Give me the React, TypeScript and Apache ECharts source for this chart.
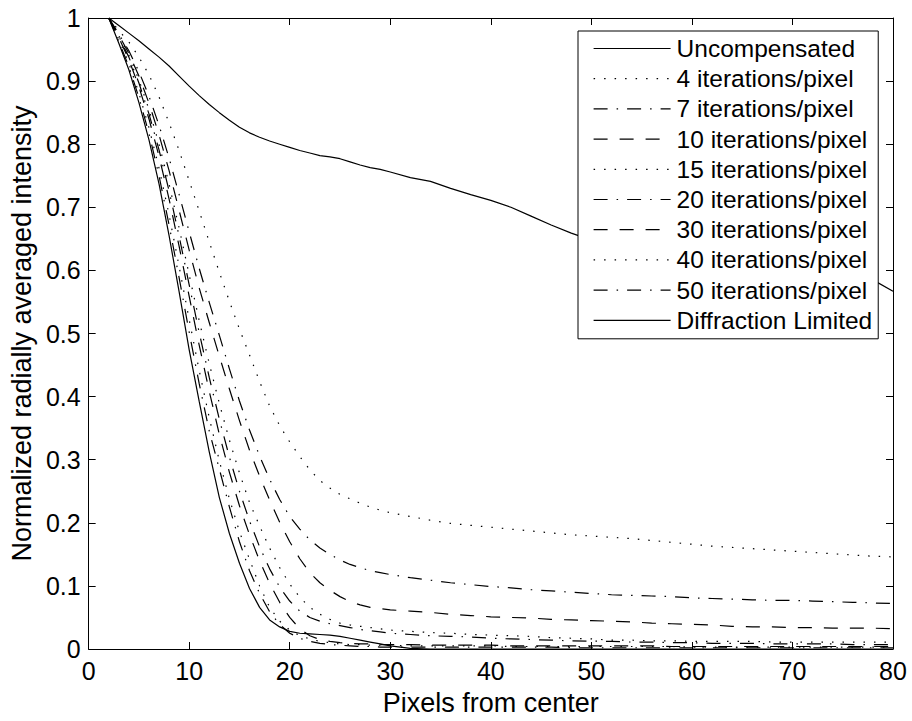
import React, { useEffect, useRef } from 'react';
import * as echarts from 'echarts';

// Shared x grid (pixels from center)
const xs = [2, 3, 4, 5, 6, 7, 8, 9, 10, 11, 12, 13, 14, 15, 16, 17, 18, 19, 20, 21, 22, 23, 24, 25, 26, 27, 28, 29, 30,
  32, 34, 36, 38, 40, 42, 44, 46, 48, 50, 52, 54, 56, 58, 60, 62, 64, 66, 68, 70, 72, 74, 76, 78, 80];

const uncompensated = [1.000, 0.988, 0.976, 0.964, 0.951, 0.938, 0.924, 0.908, 0.892, 0.877, 0.863, 0.850, 0.838, 0.827, 0.818, 0.811, 0.805, 0.800, 0.795, 0.790, 0.786, 0.782, 0.780, 0.777, 0.772, 0.767, 0.763, 0.760, 0.756,
  0.747, 0.741, 0.730, 0.720, 0.711, 0.700, 0.686, 0.672, 0.659, 0.648, 0.640, 0.634, 0.629, 0.625, 0.621, 0.617, 0.614, 0.611, 0.608, 0.605, 0.602, 0.598, 0.594, 0.585, 0.567];

const iter4 = [1.000, 0.980, 0.962, 0.938, 0.910, 0.875, 0.834, 0.790, 0.742, 0.694, 0.645, 0.597, 0.551, 0.507, 0.466, 0.424, 0.385, 0.354, 0.328, 0.305, 0.284, 0.267, 0.255, 0.245, 0.238, 0.231, 0.225, 0.220, 0.216,
  0.210, 0.204, 0.199, 0.196, 0.193, 0.190, 0.187, 0.184, 0.181, 0.179, 0.177, 0.175, 0.172, 0.169, 0.166, 0.163, 0.161, 0.159, 0.157, 0.155, 0.153, 0.151, 0.149, 0.147, 0.146];

const iter7 = [1.000, 0.975, 0.948, 0.915, 0.876, 0.830, 0.778, 0.720, 0.661, 0.603, 0.549, 0.497, 0.444, 0.393, 0.347, 0.306, 0.269, 0.237, 0.210, 0.190, 0.173, 0.160, 0.150, 0.141, 0.134, 0.129, 0.124, 0.121, 0.118,
  0.113, 0.109, 0.105, 0.102, 0.099, 0.097, 0.094, 0.092, 0.090, 0.088, 0.086, 0.085, 0.084, 0.083, 0.081, 0.080, 0.079, 0.078, 0.077, 0.077, 0.076, 0.075, 0.074, 0.073, 0.072];

const iter10 = [1.000, 0.973, 0.944, 0.908, 0.865, 0.815, 0.758, 0.695, 0.632, 0.572, 0.517, 0.464, 0.412, 0.362, 0.315, 0.274, 0.236, 0.201, 0.170, 0.143, 0.121, 0.105, 0.093, 0.083, 0.075, 0.070, 0.066, 0.064, 0.062,
  0.060, 0.058, 0.055, 0.053, 0.051, 0.050, 0.049, 0.047, 0.046, 0.045, 0.044, 0.043, 0.041, 0.040, 0.039, 0.038, 0.036, 0.035, 0.035, 0.034, 0.034, 0.033, 0.033, 0.033, 0.032];

const iter15 = [1.000, 0.972, 0.941, 0.902, 0.855, 0.800, 0.737, 0.667, 0.593, 0.520, 0.452, 0.389, 0.331, 0.279, 0.232, 0.195, 0.160, 0.129, 0.103, 0.082, 0.066, 0.055, 0.047, 0.041, 0.038, 0.036, 0.034, 0.032, 0.030,
  0.028, 0.026, 0.025, 0.023, 0.022, 0.021, 0.020, 0.018, 0.017, 0.016, 0.014, 0.014, 0.013, 0.013, 0.012, 0.012, 0.012, 0.012, 0.011, 0.011, 0.011, 0.011, 0.011, 0.011, 0.011];

const iter20 = [1.000, 0.971, 0.938, 0.897, 0.848, 0.791, 0.726, 0.654, 0.577, 0.501, 0.430, 0.364, 0.304, 0.250, 0.203, 0.162, 0.127, 0.098, 0.076, 0.060, 0.050, 0.044, 0.040, 0.037, 0.034, 0.031, 0.029, 0.027, 0.025,
  0.023, 0.021, 0.020, 0.019, 0.017, 0.016, 0.015, 0.014, 0.013, 0.0125, 0.012, 0.011, 0.011, 0.010, 0.010, 0.009, 0.009, 0.009, 0.008, 0.008, 0.008, 0.008, 0.007, 0.007, 0.007];

const iter30 = [1.000, 0.969, 0.934, 0.891, 0.840, 0.781, 0.713, 0.638, 0.559, 0.481, 0.408, 0.340, 0.280, 0.227, 0.181, 0.140, 0.104, 0.074, 0.050, 0.032, 0.021, 0.015, 0.012, 0.010, 0.009, 0.008, 0.008, 0.007, 0.007,
  0.007, 0.006, 0.006, 0.006, 0.006, 0.005, 0.005, 0.005, 0.005, 0.005, 0.005, 0.005, 0.005, 0.004, 0.004, 0.004, 0.004, 0.004, 0.004, 0.004, 0.004, 0.004, 0.004, 0.004, 0.004];

const iter40 = [1.000, 0.966, 0.928, 0.881, 0.826, 0.762, 0.688, 0.606, 0.522, 0.441, 0.366, 0.298, 0.238, 0.186, 0.142, 0.100, 0.066, 0.044, 0.030, 0.021, 0.016, 0.012, 0.010, 0.008, 0.007, 0.007, 0.006, 0.006, 0.006,
  0.005, 0.005, 0.005, 0.005, 0.005, 0.004, 0.004, 0.004, 0.004, 0.004, 0.004, 0.004, 0.004, 0.004, 0.003, 0.003, 0.003, 0.003, 0.003, 0.003, 0.003, 0.003, 0.003, 0.003, 0.003];

const iter50 = [1.000, 0.963, 0.923, 0.874, 0.817, 0.750, 0.672, 0.588, 0.502, 0.420, 0.345, 0.285, 0.225, 0.170, 0.124, 0.088, 0.059, 0.039, 0.025, 0.017, 0.012, 0.009, 0.007, 0.006, 0.005, 0.004, 0.004, 0.003, 0.003,
  0.003, 0.003, 0.003, 0.003, 0.003, 0.003, 0.003, 0.003, 0.002, 0.002, 0.002, 0.002, 0.002, 0.002, 0.002, 0.002, 0.002, 0.002, 0.002, 0.002, 0.002, 0.002, 0.002, 0.002, 0.002];

const diffraction = [1.000, 0.960, 0.918, 0.866, 0.807, 0.737, 0.655, 0.566, 0.474, 0.392, 0.312, 0.240, 0.183, 0.136, 0.096, 0.066, 0.046, 0.035, 0.028, 0.025, 0.024, 0.023, 0.022, 0.020, 0.017, 0.014, 0.011, 0.008, 0.005,
  0.001, 0, 0, 0, 0, 0, 0, 0, 0, 0, 0, 0, 0, 0, 0, 0, 0, 0, 0, 0, 0, 0, 0, 0, 0];

const seriesNames = [
  'Uncompensated',
  '4 iterations/pixel',
  '7 iterations/pixel',
  '10 iterations/pixel',
  '15 iterations/pixel',
  '20 iterations/pixel',
  '30 iterations/pixel',
  '40 iterations/pixel',
  '50 iterations/pixel',
  'Diffraction Limited',
];
const seriesValues = [uncompensated, iter4, iter7, iter10, iter15, iter20, iter30, iter40, iter50, diffraction];

const xTicks = { min: 0, max: 80, interval: 10 };
const yTicks = { min: 0, max: 1, interval: 0.1 };

const FONT = "'Liberation Sans', Arial, Helvetica, sans-serif";

export default function App() {
  const ref = useRef<HTMLDivElement>(null);

  useEffect(() => {
    if (!ref.current) return;
    const chart = echarts.init(ref.current, null, { renderer: 'svg' });

    const SOLID: any = 'solid';
    const DOTTED: any = [1.5, 9];
    const DASHDOT: any = [14, 9, 1.5, 9];
    const DASHED: any = [14, 12];
    const styles = [SOLID, DOTTED, DASHDOT, DASHED, DOTTED, DASHDOT, DASHED, DOTTED, DASHDOT, SOLID];

    const axisCommon = {
      axisLine: { show: true, onZero: false, lineStyle: { color: '#000', width: 1 } },
      axisTick: { show: true, inside: true, length: 7, lineStyle: { color: '#000', width: 1 } },
      splitLine: { show: false },
    };

    chart.setOption({
      animation: false,
      backgroundColor: '#fff',
      textStyle: { fontFamily: FONT },
      grid: { left: 88, right: 19, top: 18, bottom: 69, containLabel: false },
      xAxis: [
        {
          type: 'value',
          position: 'bottom',
          ...xTicks,
          ...axisCommon,
          name: 'Pixels from center',
          nameLocation: 'middle',
          nameGap: 40,
          nameTextStyle: { fontSize: 27, color: '#000', fontFamily: FONT },
          axisLabel: { fontSize: 25, color: '#000', margin: 9, fontFamily: FONT },
        },
        {
          type: 'value',
          position: 'top',
          ...xTicks,
          ...axisCommon,
          axisLabel: { show: false },
        },
      ],
      yAxis: [
        {
          type: 'value',
          position: 'left',
          ...yTicks,
          ...axisCommon,
          name: 'Normalized radially averaged intensity',
          nameLocation: 'middle',
          nameGap: 53,
          nameTextStyle: { fontSize: 27, color: '#000', fontFamily: FONT },
          axisLabel: { fontSize: 25, color: '#000', margin: 8, fontFamily: FONT },
        },
        {
          type: 'value',
          position: 'right',
          ...yTicks,
          ...axisCommon,
          axisLabel: { show: false },
        },
      ],
      legend: {
        show: true,
        orient: 'vertical',
        left: 578,
        top: 31,
        itemWidth: 77,
        itemHeight: 14,
        itemGap: 5.2,
        padding: [5, 6, 6, 15],
        backgroundColor: '#fff',
        borderColor: '#000',
        borderWidth: 1,
        borderRadius: 0,
        selectedMode: false,
        itemStyle: { opacity: 0, borderWidth: 0 },
        lineStyle: { width: 1.2, opacity: 1 },
        textStyle: { fontSize: 24.5, color: '#000', fontFamily: FONT, padding: [0, 0, 0, 1] },
        data: seriesNames,
      },
      series: seriesNames.map((name, i) => ({
        name,
        type: 'line',
        xAxisIndex: 0,
        yAxisIndex: 0,
        showSymbol: false,
        symbol: 'none',
        smooth: false,
        clip: true,
        lineStyle: { color: '#000', width: 1.2, type: styles[i], cap: 'butt' },
        itemStyle: { color: '#000' },
        emphasis: { disabled: true },
        data: xs.map((x, j) => [x, seriesValues[i][j]]),
      })),
    });

    return () => chart.dispose();
  }, []);

  return (
    <div
      ref={ref}
      style={{ position: 'absolute', left: 0, top: 0, width: 912, height: 721, background: '#fff' }}
    />
  );
}
